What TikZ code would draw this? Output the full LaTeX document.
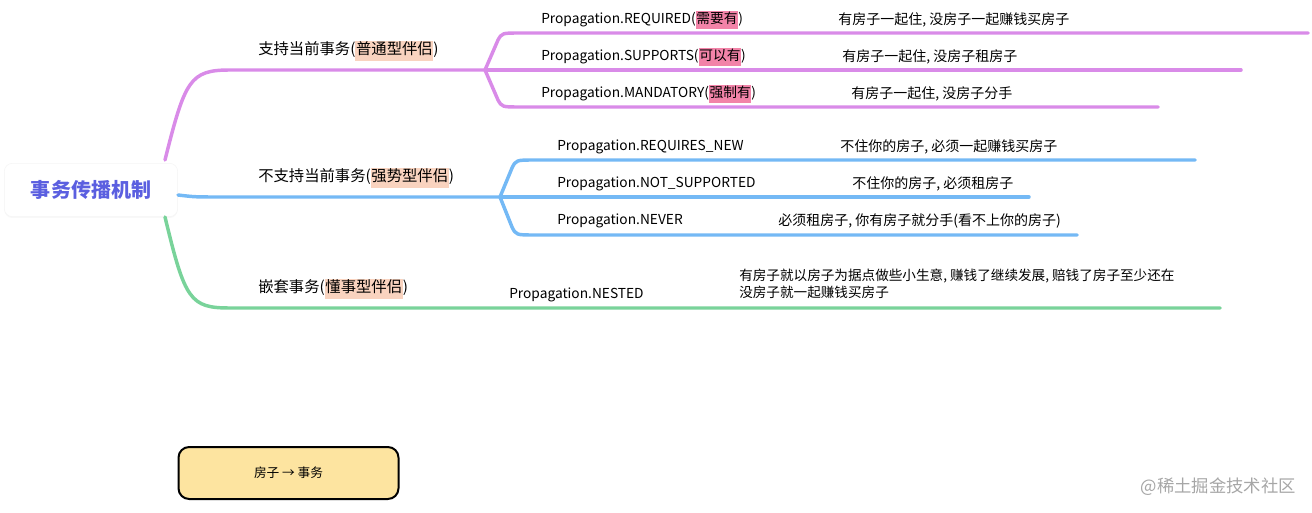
\documentclass[tikz,border=0pt]{standalone}
\usepackage{fontspec}
\setmainfont{Noto Sans CJK SC}
\usetikzlibrary{shadows}
\definecolor{pur}{HTML}{D98BE8}
\definecolor{blu}{HTML}{74B9F5}
\definecolor{grn}{HTML}{79D39A}
\definecolor{peach}{HTML}{F9D3BF}
\definecolor{pink}{HTML}{F283A8}
\definecolor{legy}{HTML}{FDE4A0}
\newcommand{\hlp}[1]{{\setlength{\fboxsep}{0.5pt}\colorbox{peach}{\strut #1}}}
\newcommand{\hlk}[1]{{\setlength{\fboxsep}{0.5pt}\colorbox{pink}{\strut #1}}}
\begin{document}
\begin{tikzpicture}[x=0.75pt,y=-0.75pt,
  br/.style={line width=2.6pt,line cap=round},
  l1/.style={anchor=west,font=\fontsize{11.5}{13}\selectfont,inner sep=0pt},
  l2/.style={anchor=west,font=\fontsize{10.3}{12}\selectfont,inner sep=0pt},
  l3/.style={anchor=west,font=\fontsize{10.5}{12}\selectfont,inner sep=0pt},
  ds/.style={anchor=west,font=\fontsize{10.2}{13}\selectfont,inner sep=0pt,align=left}]
\useasboundingbox (0,0) rectangle (1312,513);
\node[draw=black!4,fill=white,rounded corners=6pt,minimum width=130pt,minimum height=40pt,
  drop shadow={opacity=0.06,shadow xshift=0pt,shadow yshift=-1pt}] (root) at (91,190)
  {\fontsize{15}{18}\selectfont\bfseries\color[HTML]{5B5FE0}事务传播机制};
% branch 1
\coordinate (a1) at (485,70);
\draw[br,pur] (165,160) .. controls (185,80) and (190,70) .. (230,70) -- (a1);
\draw[br,pur] (a1) -- (498,40) .. controls (502,33) .. (520,33) -- (1308,33);
\draw[br,pur] (a1) -- (1241,70);
\draw[br,pur] (a1) -- (498,100) .. controls (502,107) .. (520,107) -- (1158,107);
\node[l1] (t1) at (258,51) {支持当前事务(\hlp{普通型伴侣})};
\node[l2] (s1) at (541,20) {Propagation.REQUIRED(\hlk{需要有})};
\node[l2] (s2) at (541,57) {Propagation.SUPPORTS(\hlk{可以有})};
\node[l2] (s3) at (541,94) {Propagation.MANDATORY(\hlk{强制有})};
\node[l3] (d1) at (838,20) {有房子一起住, 没房子一起赚钱买房子};
\node[l3] (d2) at (842,57) {有房子一起住, 没房子租房子};
\node[l3] (d3) at (851,94) {有房子一起住, 没房子分手};
% branch 2
\coordinate (b1) at (500,197);
\draw[br,blu] (178,195) .. controls (195,197) .. (220,197) -- (b1);
\draw[br,blu] (b1) -- (512,168) .. controls (516,160) .. (535,160) -- (1195,160);
\draw[br,blu] (b1) -- (1029,197);
\draw[br,blu] (b1) -- (512,227) .. controls (516,235) .. (535,235) -- (1077,235);
\node[l1] (t2) at (258,178) {不支持当前事务(\hlp{强势型伴侣})};
\node[l2] (s4) at (557,147) {Propagation.REQUIRES\_NEW};
\node[l2] (s5) at (557,184) {Propagation.NOT\_SUPPORTED};
\node[l2] (s6) at (557,221) {Propagation.NEVER};
\node[l3] (d4) at (840,147) {不住你的房子, 必须一起赚钱买房子};
\node[l3] (d5) at (852,184) {不住你的房子, 必须租房子};
\node[l3] (d6) at (778,221) {必须租房子, 你有房子就分手(看不上你的房子)};
% branch 3
\draw[br,grn] (165,217) .. controls (185,300) and (190,308) .. (230,308) -- (1220,308);
\node[l1] (t3) at (258,289) {嵌套事务(\hlp{懂事型伴侣})};
\node[l2] (s7) at (509,295) {Propagation.NESTED};
\node[ds] (d7) at (739,284) {有房子就以房子为据点做些小生意, 赚钱了继续发展, 赔钱了房子至少还在\\没房子就一起赚钱买房子};
% legend
\node[draw=black,line width=1.5pt,fill=legy,rounded corners=8pt,minimum width=165pt,minimum height=39pt,
  font=\fontsize{9.5}{11}\selectfont] (leg) at (288.5,473) {房子 → 事务};
\node[anchor=east,font=\fontsize{13}{15}\selectfont,text=black!35,inner sep=0pt] (wm) at (1296,487) {@稀土掘金技术社区};
\end{tikzpicture}
\end{document}
